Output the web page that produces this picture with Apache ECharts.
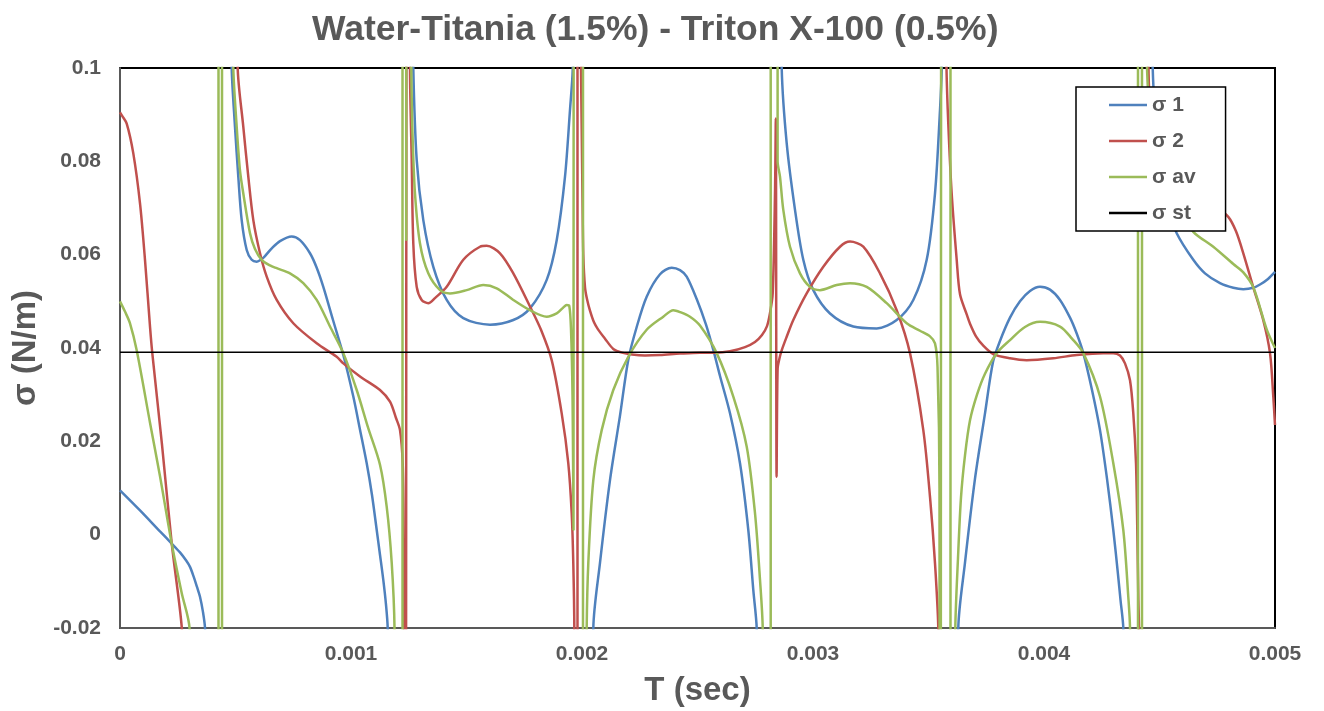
<!DOCTYPE html>
<html>
<head>
<meta charset="utf-8">
<title>Water-Titania (1.5%) - Triton X-100 (0.5%)</title>
<script src="https://cdn.jsdelivr.net/npm/echarts/dist/echarts.min.js"></script>
<style>
  html, body { margin: 0; padding: 0; background: #ffffff; }
  #chart { width: 1324px; height: 711px; }
</style>
</head>
<body>
<div id="chart"></div>
<script>
// Axis ticks and their printed labels
const timeTicks = [0, 0.001, 0.002, 0.003, 0.004, 0.005];
const timeTickLabels = ['0', '0.001', '0.002', '0.003', '0.004', '0.005'];
const sigmaTicks = [-0.02, 0, 0.02, 0.04, 0.06, 0.08, 0.1];
const sigmaTickLabels = ['-0.02', '0', '0.02', '0.04', '0.06', '0.08', '0.1'];

const seriesNames = ['σ 1', 'σ 2', 'σ av', 'σ st'];

// [T (s), σ (N/m)] samples. Values far outside the axis range are samples
// next to the singularities where σ diverges; [t, null] breaks the curve.
const sigma1 = [
  [0, 0.0095], [0.0000866, 0.0052], [0.0001732, 0.0007], [0.0002238, -0.0019], [0.0002597, -0.0038],
  [0.0002857, -0.0055], [0.000303, -0.0069], [0.0003203, -0.0092], [0.0003333, -0.0112], [0.0003463, -0.0133],
  [0.0003593, -0.0166], [0.000368, -0.02], [0.0003723, -0.03],
  [0.00043, null],
  [0.0004805, 0.12], [0.0004835, 0.1], [0.0004978, 0.0874], [0.0005121, 0.0767], [0.0005268, 0.0674],
  [0.0005485, 0.061], [0.0005701, 0.0589], [0.0005918, 0.0585], [0.0006147, 0.0591], [0.0006277, 0.0597],
  [0.000658, 0.0614], [0.0006926, 0.0629], [0.0007433, 0.0639], [0.0007792, 0.0631], [0.0008225, 0.0603],
  [0.0008515, 0.0572], [0.0008801, 0.0531], [0.0009221, 0.046], [0.0009667, 0.0385], [0.00101, 0.0296],
  [0.001039, 0.0225], [0.001068, 0.0153], [0.0010909, 0.0085], [0.0011113, 0.001], [0.0011255, -0.0043],
  [0.0011398, -0.0097], [0.0011515, -0.015], [0.0011589, -0.02], [0.0011645, -0.04],
  [0.00122, null],
  [0.0012662, 0.12], [0.0012697, 0.1], [0.0012844, 0.0803], [0.001313, 0.0674], [0.0013563, 0.0574],
  [0.0014143, 0.0503], [0.0014862, 0.0464], [0.0016017, 0.045], [0.0017026, 0.046], [0.0017749, 0.0485],
  [0.0018472, 0.0546], [0.0018905, 0.0631], [0.0019264, 0.0767], [0.001948, 0.091], [0.0019597, 0.0996],
  [0.0019632, 0.12],
  [0.002, null],
  [0.0020468, -0.04], [0.002049, -0.02], [0.002078, -0.006], [0.0021212, 0.0117], [0.0021645, 0.0255],
  [0.0022004, 0.0375], [0.0022368, 0.0445], [0.00228, 0.051], [0.0023377, 0.0558], [0.0023883, 0.0572],
  [0.0024242, 0.0567], [0.0024532, 0.0553], [0.0024965, 0.0505], [0.0025368, 0.045], [0.0025684, 0.0396],
  [0.0025974, 0.034], [0.0026407, 0.026], [0.002684, 0.0153], [0.0027199, 0.001], [0.0027416, -0.0119],
  [0.0027563, -0.02], [0.0027619, -0.04],
  [0.00281, null],
  [0.0028615, 0.12], [0.0028645, 0.1], [0.0028861, 0.0839], [0.0029221, 0.0696], [0.002958, 0.0589],
  [0.0030013, 0.0524], [0.0030736, 0.0474], [0.0031745, 0.0446], [0.0032758, 0.0442], [0.0033623, 0.046],
  [0.0034342, 0.0503], [0.0034922, 0.0589], [0.0035281, 0.0731], [0.0035498, 0.091], [0.0035571, 0.0996],
  [0.0035606, 0.12],
  [0.00359, null],
  [0.0036255, -0.05], [0.003629, -0.02], [0.003658, -0.006], [0.0037013, 0.012], [0.0037446, 0.026],
  [0.0037792, 0.037], [0.0038095, 0.0415], [0.0038528, 0.0465], [0.0038961, 0.05], [0.0039394, 0.0522],
  [0.0039827, 0.0531], [0.004026, 0.0525], [0.0040693, 0.0503], [0.0041126, 0.0465], [0.0041416, 0.0431],
  [0.0041701, 0.0389], [0.0042078, 0.031], [0.0042424, 0.0224], [0.0042727, 0.012], [0.0043, 0.001],
  [0.0043203, -0.0085], [0.0043312, -0.014], [0.0043433, -0.02], [0.0043485, -0.04],
  [0.0044, null],
  [0.0044654, 0.12], [0.0044706, 0.1], [0.0044805, 0.09], [0.0044935, 0.082], [0.0045108, 0.076],
  [0.0045368, 0.07], [0.0045745, 0.0646], [0.0046463, 0.0589], [0.004697, 0.056], [0.0047619, 0.0539],
  [0.0048195, 0.0529], [0.0048628, 0.0526], [0.0049061, 0.0529], [0.0049351, 0.0536], [0.0049697, 0.0548],
  [0.005, 0.0563]
];

const sigma2 = [
  [0, 0.0905], [0.0000087, 0.0898], [0.000029, 0.0881], [0.0000576, 0.0817], [0.0000866, 0.071],
  [0.0001082, 0.0589], [0.0001299, 0.0446], [0.0001398, 0.0389], [0.0001818, 0.0193], [0.0002238, -0.0018],
  [0.0002671, -0.0197], [0.0002727, -0.03],
  [0.0004, null],
  [0.0005065, 0.12], [0.0005095, 0.1], [0.0005338, 0.0874], [0.0005554, 0.0767], [0.0005771, 0.0674],
  [0.0006061, 0.0603], [0.0006351, 0.0553], [0.0006784, 0.0503], [0.0007502, 0.0453], [0.0008515, 0.041],
  [0.0009381, 0.0381], [0.0009667, 0.0367], [0.001039, 0.0339], [0.0011255, 0.031], [0.0011688, 0.0285],
  [0.0011948, 0.025], [0.0012121, 0.0224], [0.0012238, 0.0153], [0.0012277, 0], [0.0012307, -0.03],
  [0.0012329, -0.5], [0.0012394, 0.063], [0.0012446, 0.3],
  [0.0012554, 0.0996], [0.0012628, 0.0803], [0.0012697, 0.0624], [0.0012844, 0.0531], [0.001306, 0.0503],
  [0.0013346, 0.0496], [0.0013636, 0.0507], [0.0014143, 0.0531], [0.0014862, 0.0589], [0.0015584, 0.0617],
  [0.0015874, 0.0619], [0.001645, 0.0603], [0.0017026, 0.056], [0.0017749, 0.0489], [0.0018225, 0.0439],
  [0.0018688, 0.0374], [0.0019121, 0.026], [0.0019407, 0.0153], [0.0019554, 0.0046], [0.0019623, -0.0061],
  [0.0019667, -0.02], [0.0019697, -0.1], [0.0019805, -0.5], [0.0019805, 0.5],
  [0.0019926, 0.12], [0.0019957, 0.1], [0.0019987, 0.087], [0.0020022, 0.072], [0.0020056, 0.06],
  [0.002013, 0.053], [0.0020216, 0.0505], [0.0020346, 0.048], [0.002052, 0.0455], [0.0020693, 0.044],
  [0.0020996, 0.042], [0.0021355, 0.0398], [0.0021732, 0.039], [0.0022165, 0.0386], [0.0022727, 0.0384],
  [0.0023377, 0.0385], [0.0024242, 0.0388], [0.0025108, 0.039], [0.0025758, 0.039], [0.0026407, 0.0393],
  [0.0027056, 0.0402], [0.0027489, 0.0413], [0.0027792, 0.0428], [0.0028009, 0.0447], [0.0028139, 0.0475],
  [0.0028255, 0.0517], [0.0028355, 0.0731], [0.002839, 0.0892], [0.0028424, 0.0124], [0.0028468, 0.0355],
  [0.002855, 0.0378], [0.0028645, 0.0395], [0.0028861, 0.0424], [0.0029147, 0.046], [0.0029727, 0.0517],
  [0.0030446, 0.0574], [0.0031169, 0.0617], [0.0031602, 0.0628], [0.0032177, 0.0617], [0.00329, 0.056],
  [0.0033623, 0.0481], [0.0034199, 0.0389], [0.0034775, 0.0224], [0.0035065, 0.0081], [0.0035281, -0.0061],
  [0.0035424, -0.02], [0.0035455, -0.04],
  [0.00356, null],
  [0.0035736, 0.12], [0.0035779, 0.1], [0.0035857, 0.088], [0.0036004, 0.0731], [0.0036221, 0.0589],
  [0.0036364, 0.0515], [0.0036654, 0.0472], [0.0036797, 0.0452], [0.0037056, 0.0425], [0.0037372, 0.0405],
  [0.0037805, 0.0387], [0.0038528, 0.0378], [0.0039251, 0.0374], [0.0040403, 0.0378], [0.0041416, 0.0385],
  [0.0042567, 0.0389], [0.0043, 0.0389], [0.004329, 0.0384], [0.0043506, 0.0367], [0.0043723, 0.0331],
  [0.0043866, 0.026], [0.0043983, 0.0153], [0.0044039, 0.001], [0.0044082, -0.0133], [0.0044113, -0.02],
  [0.0044156, -0.05],
  [0.00443, null],
  [0.0044459, 0.12], [0.0044524, 0.1], [0.0044589, 0.093], [0.0045022, 0.082], [0.0045671, 0.077],
  [0.0046537, 0.073], [0.0047403, 0.0705], [0.0047978, 0.0681], [0.0048312, 0.065], [0.0048628, 0.0603],
  [0.0049061, 0.053], [0.004949, 0.046], [0.0049784, 0.0389], [0.0049926, 0.0296], [0.005, 0.0235]
];

const sigmaAv = [
  [0, 0.05], [0.0000216, 0.0478], [0.0000433, 0.0453], [0.0000723, 0.0395], [0.0001299, 0.024],
  [0.0001732, 0.0125], [0.0002238, -0.0019], [0.0002671, -0.0125], [0.0003009, -0.02], [0.0003117, -0.06],
  [0.0004264, -0.5], [0.0004264, 0.5], [0.0004416, 0.5], [0.0004416, -0.5],
  [0.00046, null],
  [0.0004874, 0.12], [0.0004905, 0.1], [0.0005052, 0.0874], [0.0005195, 0.078], [0.0005338, 0.0731],
  [0.0005628, 0.0646], [0.0005844, 0.0612], [0.0006134, 0.0589], [0.0006494, 0.0577], [0.0006784, 0.0571],
  [0.0007359, 0.056], [0.0007935, 0.0539], [0.0008515, 0.0503], [0.0009091, 0.0446], [0.0009667, 0.0389],
  [0.0010247, 0.031], [0.0010736, 0.023], [0.0011255, 0.015], [0.0011545, 0.006], [0.0011762, -0.006],
  [0.0011883, -0.02], [0.0011926, -0.07], [0.001223, -0.5], [0.001223, 0.5], [0.0012381, 0.5],
  [0.001239, 0.063], [0.0012403, 0.5], [0.0012576, 0.12], [0.001261, 0.1], [0.0012662, 0.086],
  [0.001277, 0.0731], [0.0012987, 0.0624], [0.0013346, 0.056], [0.0013853, 0.0524], [0.0014286, 0.0517],
  [0.0015009, 0.0524], [0.0015727, 0.0535], [0.0016307, 0.0528], [0.0017026, 0.0503], [0.0017749, 0.0481],
  [0.0018472, 0.0467], [0.0018905, 0.0474], [0.0019177, 0.0486], [0.0019338, 0.0492], [0.001945, 0.049],
  [0.0019524, 0.044], [0.0019589, 0.03], [0.0019632, 0.001], [0.0019675, 0.5], [0.0020043, 0.5],
  [0.0020043, -0.5], [0.0020165, -0.05], [0.0020203, -0.02], [0.0020273, -0.0061], [0.002049, 0.0117],
  [0.0020853, 0.0224], [0.0021355, 0.031], [0.0022004, 0.0381], [0.00228, 0.0439], [0.0023519, 0.0467],
  [0.0023952, 0.0481], [0.0024242, 0.0477], [0.0024675, 0.0467], [0.0025108, 0.0448], [0.0025831, 0.0389],
  [0.002655, 0.0296], [0.0027129, 0.0189], [0.0027489, 0.0046], [0.0027706, -0.0097], [0.0027823, -0.02],
  [0.0027879, -0.06], [0.0028169, -0.5], [0.0028169, 0.5], [0.0028455, 0.5], [0.0028468, 0.08],
  [0.0028571, 0.0767], [0.0028714, 0.0696], [0.0029004, 0.0617], [0.0029437, 0.056], [0.002987, 0.0531],
  [0.0030303, 0.0524], [0.0031026, 0.0535], [0.0031602, 0.0539], [0.0032325, 0.0531], [0.003319, 0.0496],
  [0.0034056, 0.0453], [0.0034632, 0.0437], [0.0035065, 0.0425], [0.0035281, 0.041], [0.003539, 0.036],
  [0.0035476, 0.01], [0.0035519, -0.5], [0.0035584, 0.5], [0.0035952, 0.5], [0.0035952, -0.5],
  [0.0036126, -0.05], [0.003616, -0.02], [0.0036277, -0.005], [0.0036407, 0.008], [0.003658, 0.017],
  [0.0036797, 0.0245], [0.00371, 0.03], [0.0037446, 0.0345], [0.0037952, 0.0389], [0.0038528, 0.0417],
  [0.0039177, 0.0445], [0.0039827, 0.0456], [0.0040693, 0.0446], [0.0041212, 0.042], [0.0041701, 0.0389],
  [0.0042424, 0.0296], [0.0043, 0.0153], [0.0043433, 0.001], [0.0043649, -0.0133], [0.0043723, -0.02],
  [0.004381, -0.08], [0.0044069, -0.5], [0.0044069, 0.5], [0.0044242, 0.5], [0.0044242, -0.5],
  [0.00443, null],
  [0.0044394, 0.12], [0.0044459, 0.1], [0.0044589, 0.09], [0.0044848, 0.082], [0.0045238, 0.076],
  [0.0045801, 0.07], [0.0046463, 0.0649], [0.0047329, 0.0617], [0.0048195, 0.058], [0.0048628, 0.0562],
  [0.0049061, 0.053], [0.0049641, 0.044], [0.005, 0.04]
];

// Static surface tension reference level
const sigmaSt = [[0, 0.0391], [0.005, 0.0391]];

const FONT = '"Liberation Sans", Arial, Helvetica, sans-serif';
const TEXT_GREY = '#595959';

function tickLabel(ticks, labels) {
  return function (v) {
    const i = ticks.findIndex(t => Math.abs(t - v) < 1e-9);
    return i >= 0 ? labels[i] : '';
  };
}

function curve(name, data, color, width, smooth) {
  return {
    name: name,
    type: 'line',
    data: data,
    symbol: 'none',
    showSymbol: false,
    connectNulls: false,
    clip: true,
    smooth: smooth,
    lineStyle: { color: color, width: width },
    itemStyle: { color: color },
    emphasis: { disabled: true }
  };
}

const chart = echarts.init(document.getElementById('chart'), null, { renderer: 'canvas' });

chart.setOption({
  animation: false,
  backgroundColor: '#ffffff',
  title: {
    text: 'Water-Titania (1.5%) - Triton X-100 (0.5%)',
    left: 307,
    top: 7,
    textStyle: { fontFamily: FONT, fontSize: 35.5, fontWeight: 'bold', color: TEXT_GREY }
  },
  grid: {
    left: 120, top: 68, right: 49, bottom: 83,
    show: true, borderColor: '#000000', borderWidth: 2,
    containLabel: false, outerBoundsMode: 'none'
  },
  legend: {
    data: seriesNames,
    orient: 'vertical',
    left: 1076,
    top: 87,
    padding: [7.5, 30, 7.5, 33],
    icon: 'rect',
    itemWidth: 38,
    itemHeight: 2.5,
    itemGap: 15,
    backgroundColor: '#ffffff',
    borderColor: '#000000',
    borderWidth: 1.5,
    borderRadius: 0,
    selectedMode: false,
    textStyle: { fontFamily: FONT, fontSize: 21, fontWeight: 'bold', color: TEXT_GREY }
  },
  xAxis: {
    type: 'value',
    min: 0,
    max: 0.005,
    interval: 0.001,
    name: 'T (sec)',
    nameLocation: 'middle',
    nameGap: 46,
    nameTextStyle: { fontFamily: FONT, fontSize: 33, fontWeight: 'bold', color: TEXT_GREY },
    axisLine: { show: true, onZero: false, lineStyle: { color: TEXT_GREY, width: 2 } },
    axisTick: { show: false },
    splitLine: { show: false },
    axisLabel: {
      margin: 16,
      fontFamily: FONT, fontSize: 21, fontWeight: 'bold', color: TEXT_GREY,
      formatter: tickLabel(timeTicks, timeTickLabels)
    }
  },
  yAxis: {
    type: 'value',
    min: -0.02,
    max: 0.1,
    interval: 0.02,
    name: 'σ (N/m)',
    nameLocation: 'middle',
    nameGap: 70,
    nameTextStyle: { fontFamily: FONT, fontSize: 33, fontWeight: 'bold', color: TEXT_GREY },
    axisLine: { show: true, onZero: false, lineStyle: { color: TEXT_GREY, width: 2 } },
    axisTick: { show: false },
    splitLine: { show: false },
    axisLabel: {
      margin: 19,
      fontFamily: FONT, fontSize: 21, fontWeight: 'bold', color: TEXT_GREY,
      formatter: tickLabel(sigmaTicks, sigmaTickLabels)
    }
  },
  series: [
    curve(seriesNames[0], sigma1, '#4F81BD', 2.5, 0.3),
    curve(seriesNames[1], sigma2, '#C0504D', 2.5, 0.3),
    curve(seriesNames[2], sigmaAv, '#9BBB59', 2.5, 0.3),
    curve(seriesNames[3], sigmaSt, '#000000', 1.5, false)
  ]
});
</script>
</body>
</html>
